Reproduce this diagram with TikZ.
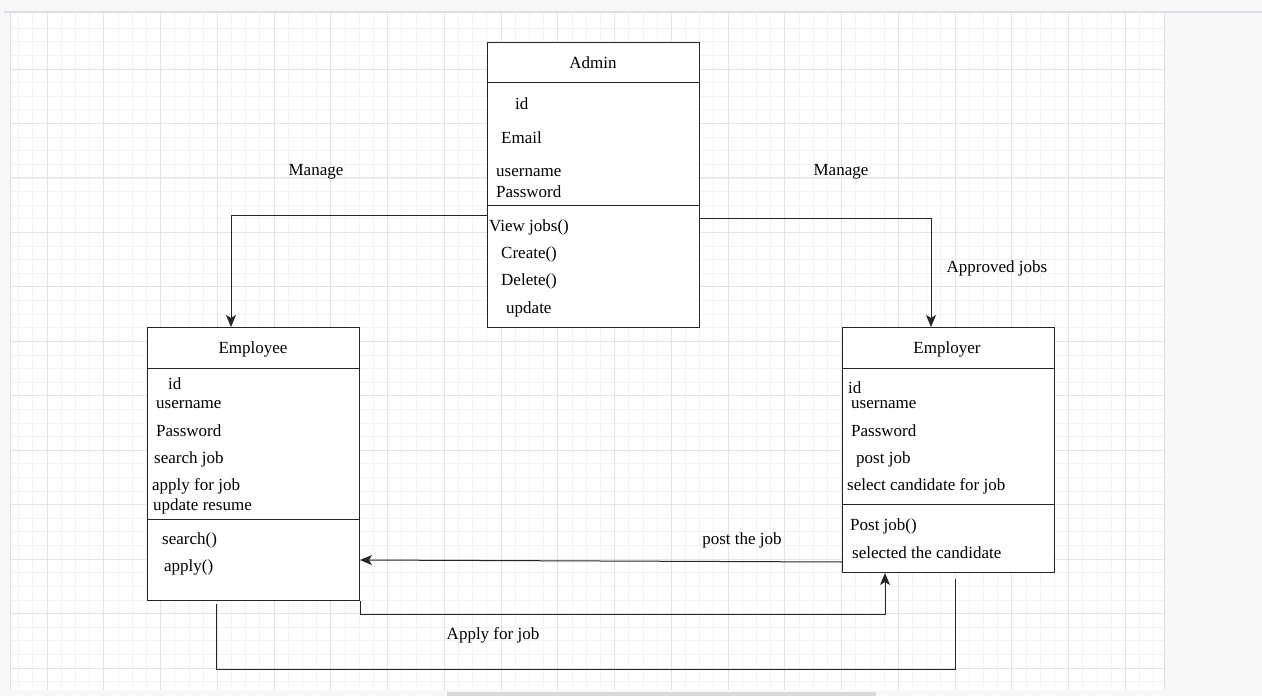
\documentclass[tikz,border=0pt]{standalone}
\usepackage{fontspec}
\setmainfont{Liberation Serif}
\usepackage{tikz}
\usetikzlibrary{positioning,calc,arrows.meta}

\definecolor{pagegrey}{HTML}{F7F8FA}
\definecolor{gridmajor}{HTML}{E3E3E3}
\definecolor{gridminor}{HTML}{F2F2F2}
\definecolor{edgegrey}{HTML}{DCDEE2}
\newcommand{\umlfont}{\fontsize{17}{20}\selectfont}

\begin{document}
\begin{tikzpicture}[x=1pt,y=-1pt]
            \tikzstyle{classbox}=[draw=black!85, line width=1pt, fill=white, inner sep=0pt, anchor=north west]
            \tikzstyle{divider}=[draw=black!85, line width=1pt]
            \tikzstyle{title}=[inner sep=0pt, font=\umlfont]
            \tikzstyle{member}=[inner sep=0pt, anchor=west, font=\umlfont]
            \tikzstyle{conn}=[draw=black!85, line width=1pt]
            \tikzstyle{arrowconn}=[conn, -{Stealth[length=12pt,width=10pt,inset=3pt]}]
            \tikzstyle{lbl}=[inner sep=0pt, font=\umlfont]
            \tikzstyle{majorline}=[draw=gridmajor, line width=0.9pt]
            \tikzstyle{minorline}=[draw=gridminor, line width=0.7pt]

            \useasboundingbox (0,0) rectangle (1262,696);

            % page and canvas
            \fill[pagegrey] (0,0) rectangle (1262,696);
            \fill[white] (10,13) rectangle (1164,690);
            \foreach \i in {0,...,80}
                \draw[minorline] (18.625+14.1875*\i,13) -- (18.625+14.1875*\i,690);
            \foreach \j in {1,...,49}
                \draw[minorline] (10,14.55+13.6125*\j) -- (1164,14.55+13.6125*\j);
            \foreach \i in {0,...,19}
                \draw[majorline] (47+56.75*\i,13) -- (47+56.75*\i,690);
            \foreach \j in {0,...,11}
                \draw[majorline] (10,69+54.45*\j) -- (1164,69+54.45*\j);
            \draw[edgegrey, line width=1.5pt] (4,12) -- (1262,12);
            \draw[edgegrey, line width=1.2pt] (10.5,13) -- (10.5,690);
            \draw[edgegrey, line width=1.2pt] (1164.5,13) -- (1164.5,690);
            \fill[black!15] (447,692) rectangle (876,696);

            % classes
            \node[classbox, minimum width=212pt, minimum height=285pt] (admin) at (487,42) {};
            \node[classbox, minimum width=212pt, minimum height=273pt] (employee) at (147,327) {};
            \node[classbox, minimum width=212pt, minimum height=245pt] (employer) at (842,327) {};

            \draw[divider] (admin.west |- 0,82) -- (admin.east |- 0,82);
            \draw[divider] (admin.west |- 0,205) -- (admin.east |- 0,205);
            \draw[divider] (employee.west |- 0,368) -- (employee.east |- 0,368);
            \draw[divider] (employee.west |- 0,519) -- (employee.east |- 0,519);
            \draw[divider] (employer.west |- 0,368) -- (employer.east |- 0,368);
            \draw[divider] (employer.west |- 0,504) -- (employer.east |- 0,504);

            \begin{scope}[yshift=-2pt]
            % Admin
            \node[title] (admintitle) at (593,61) {Admin};
            \node[member] (adminid) at (515,102) {id};
            \node[member] (adminemail) at (501,136) {Email};
            \node[member] (adminuser) at (496,171) {username};
            \node[member] (adminpass) at (496,190) {Password};
            \node[member] (adminview) at (489,225) {View jobs()};
            \node[member] (admincreate) at (501,252) {Create()};
            \node[member] (admindelete) at (501,279) {Delete()};
            \node[member] (adminupdate) at (506,307) {update};

            % Employee
            \node[title] (employeetitle) at (253,347) {Employee};
            \node[member] (employeeid) at (168,382) {id};
            \node[member] (employeeuser) at (156,403) {username};
            \node[member] (employeepass) at (156,429) {Password};
            \node[member] (employeesearch) at (154,457) {search job};
            \node[member] (employeeapply) at (152,484) {apply for job};
            \node[member] (employeeresume) at (153,504) {update resume};
            \node[member] (employeesearchop) at (162,538) {search()};
            \node[member] (employeeapplyop) at (164,565) {apply()};

            % Employer
            \node[title] (employertitle) at (947,347) {Employer};
            \node[member] (employerid) at (848,386) {id};
            \node[member] (employeruser) at (851,403) {username};
            \node[member] (employerpass) at (851,429) {Password};
            \node[member] (employerpost) at (856,457) {post job};
            \node[member] (employerselect) at (847,484) {select candidate for job};
            \node[member] (employerpostop) at (850,524) {Post job()};
            \node[member] (employerselectop) at (852,551) {selected the candidate};

            % labels
            \node[lbl] (managel) at (316,170) {Manage};
            \node[lbl] (manager) at (841,170) {Manage};
            \node[lbl] (approved) at (997,266) {Approved jobs};
            \node[lbl] (postjob) at (742,538) {post the job};
            \node[lbl] (applyjob) at (493,633) {Apply for job};
            \end{scope}

            % connectors
            \draw[arrowconn] (admin.west |- 0,215) -| (employee.north -| 231,0);
            \draw[arrowconn] (admin.east |- 0,218) -| (employer.north -| 931,0);
            \draw[arrowconn] (employer.west |- 0,562) -- (employee.east |- 0,560);
            \draw[arrowconn] (employee.south east) -- ++(0,13) -| (employer.south -| 885,0);
            \draw[conn, shorten <=3pt, shorten >=6pt] (employee.south -| 216,0) -- ++(0,68) -| (employer.south -| 955,0);
\end{tikzpicture}
\end{document}
